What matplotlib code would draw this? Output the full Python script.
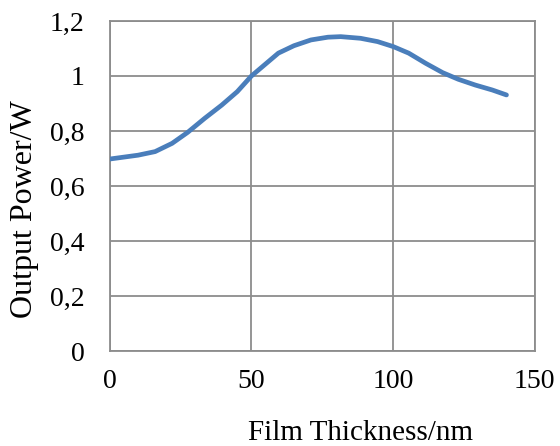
import matplotlib.pyplot as plt
from matplotlib.ticker import FuncFormatter, MultipleLocator

# values
thickness = [0, 10, 16, 22, 27.5, 33.5, 39.5, 45, 50, 59.5, 65, 71, 77, 81.5,
             88.5, 94.5, 100, 105.5, 111.5, 117.5, 123, 129, 135, 140]
power = [0.698, 0.712, 0.725, 0.755, 0.795, 0.846, 0.894, 0.943, 1.0, 1.083, 1.11,
         1.131, 1.141, 1.143, 1.137, 1.125, 1.107, 1.083, 1.046, 1.012, 0.988,
         0.967, 0.949, 0.931]


def comma(v, pos):
    s = f'{v:.1f}'.replace('.', ',')
    return s[:-2] if s.endswith(',0') else s


plt.rcParams['font.family'] = ['Liberation Serif', 'DejaVu Serif']

fig = plt.figure(figsize=(5.6, 4.46), dpi=100)
ax = fig.add_axes([0.196, 0.213, 0.759, 0.74])

ax.plot(thickness, power, color='#4A7EBB', linewidth=3.4,
        solid_capstyle='round', solid_joinstyle='round', zorder=3)

ax.set_xlim(0, 150)
ax.set_ylim(0, 1.2)
ax.xaxis.set_major_locator(MultipleLocator(50))
ax.yaxis.set_major_locator(MultipleLocator(0.2))
ax.yaxis.set_major_formatter(FuncFormatter(comma))

ax.grid(True, color='#8c8c8c', linewidth=1.3)
ax.set_axisbelow(True)
for s in ax.spines.values():
    s.set_color('#8c8c8c')
    s.set_linewidth(1.3)

ax.tick_params(length=0, labelsize=20, colors='black')
ax.tick_params(axis='x', pad=13)
ax.tick_params(axis='y', pad=18)

# axis titles sit off-centre in the original
ax.set_xlabel('Film Thickness/nm', fontsize=21, labelpad=19)
ax.set_ylabel('Output Power/W', fontsize=23, labelpad=8)
ax.xaxis.label.set_x(0.59)
ax.yaxis.label.set_y(0.43)

fig.savefig('out.png', dpi=100)
